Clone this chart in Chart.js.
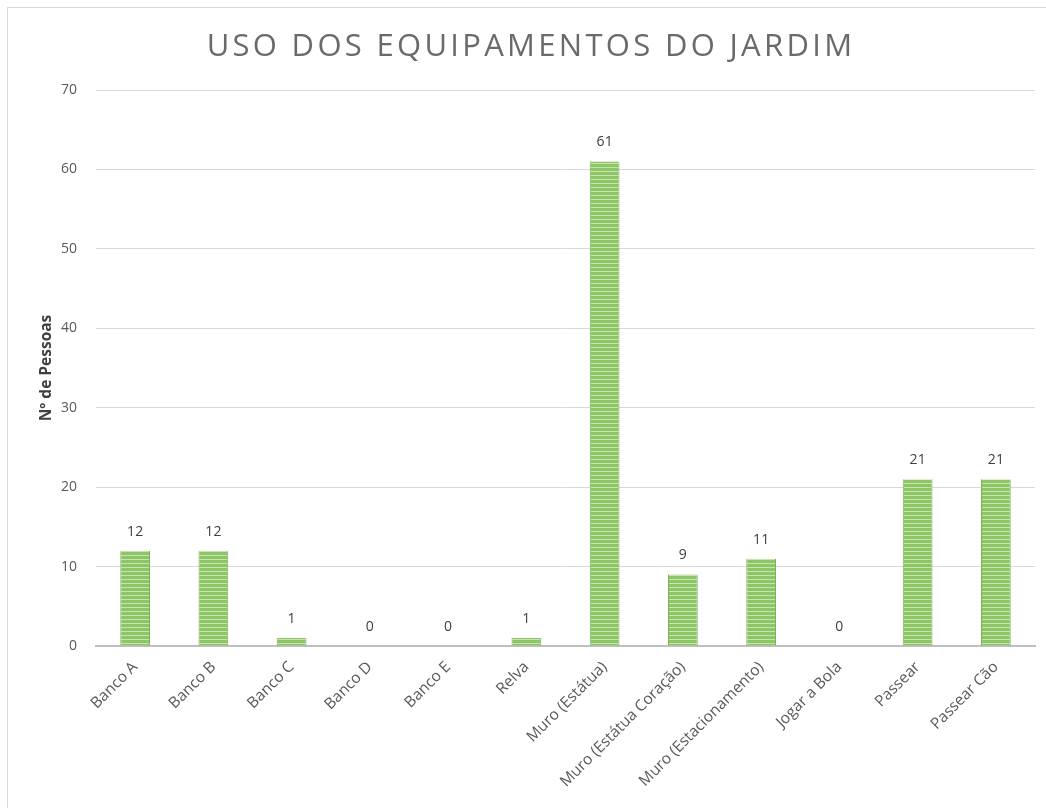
<!DOCTYPE html>
<html>
<head>
<meta charset="utf-8">
<script src="https://cdn.jsdelivr.net/npm/chart.js@4.4.1/dist/chart.umd.min.js"></script>
<style>
  html, body { margin: 0; padding: 0; background: #fff; overflow: hidden; }
  #frame { position: absolute; left: 7px; top: 7px; width: 1100px; height: 900px;
           border-left: 1px solid #d9d9d9; border-top: 1px solid #d9d9d9; }
  #c { position: absolute; left: 0; top: 0; }
</style>
</head>
<body>
<div id="frame"></div>
<canvas id="c" width="1046" height="808"></canvas>
<script>
const chartTitle = 'USO DOS EQUIPAMENTOS DO JARDIM';
const yAxisTitle = 'Nº de Pessoas';
const categories = [
  'Banco A', 'Banco B', 'Banco C', 'Banco D', 'Banco E', 'Relva',
  'Muro (Estátua)', 'Muro (Estátua Coração)', 'Muro (Estacionamento)',
  'Jogar a Bola', 'Passear', 'Passear Cão'
];
const values = [12, 12, 1, 0, 0, 1, 61, 9, 11, 0, 21, 21];
const yTicks = [0, 10, 20, 30, 40, 50, 60, 70];

const FONT = "'Open Sans', 'DejaVu Sans', sans-serif";

// horizontal striped fill for the bars
function stripePattern(ctx) {
  const p = document.createElement('canvas');
  p.width = 4; p.height = 4;
  const g = p.getContext('2d');
  g.fillStyle = '#8cc466';
  g.fillRect(0, 0, 4, 4);
  g.fillStyle = '#c6e4b0';
  g.fillRect(0, 3, 4, 1);
  return ctx.createPattern(p, 'repeat');
}

// heading drawn with letter spacing
const headingPlugin = {
  id: 'heading',
  afterDraw(chart) {
    const ctx = chart.ctx;
    ctx.save();
    ctx.font = '500 31px ' + FONT;
    ctx.fillStyle = '#6a6a6a';
    ctx.textAlign = 'center';
    ctx.textBaseline = 'middle';
    ctx.letterSpacing = '3.3px';
    ctx.fillText(chartTitle, 531, 47);
    ctx.restore();
  }
};

// value labels above each bar
const valueLabels = {
  id: 'valueLabels',
  afterDatasetsDraw(chart) {
    const ctx = chart.ctx;
    const meta = chart.getDatasetMeta(0);
    ctx.save();
    ctx.font = '14px ' + FONT;
    ctx.fillStyle = '#404040';
    ctx.textAlign = 'center';
    ctx.textBaseline = 'middle';
    meta.data.forEach((bar, i) => {
      ctx.fillText(String(values[i]), bar.x, bar.y - 19);
    });
    ctx.restore();
  }
};

const ctx = document.getElementById('c').getContext('2d');
new Chart(ctx, {
  type: 'bar',
  data: {
    labels: categories,
    datasets: [{
      data: values,
      backgroundColor: stripePattern(ctx),
      borderColor: '#7ab552',
      borderWidth: { left: 1, right: 1, top: 0, bottom: 0 },
      categoryPercentage: 1,
      barPercentage: 0.38
    }]
  },
  options: {
    responsive: false,
    animation: false,
    layout: { padding: { top: 90, left: 0, right: 11, bottom: 0 } },
    plugins: { legend: { display: false }, tooltip: { enabled: false }, title: { display: false } },
    scales: {
      x: {
        grid: { display: false },
        border: { display: true, color: '#bfbfbf', width: 2 },
        ticks: {
          autoSkip: false,
          minRotation: 45, maxRotation: 45,
          color: '#595959',
          font: { family: FONT, size: 15.5 },
          padding: 4
        },
        afterFit(scale) { scale.height = 162; }
      },
      y: {
        min: 0, max: 70,
        grid: { color: '#d9d9d9', drawTicks: false },
        border: { display: false },
        afterBuildTicks(scale) { scale.ticks = yTicks.map(v => ({ value: v })); },
        ticks: {
          color: '#595959',
          font: { family: FONT, size: 14 },
          padding: 19
        },
        title: {
          display: true,
          text: yAxisTitle,
          color: '#404040',
          font: { family: FONT, size: 15.5, weight: 'bold' },
          padding: { top: 37, bottom: 0 }
        },
        afterFit(scale) { scale.width = 96; }
      }
    }
  },
  plugins: [headingPlugin, valueLabels]
});
</script>
</body>
</html>
